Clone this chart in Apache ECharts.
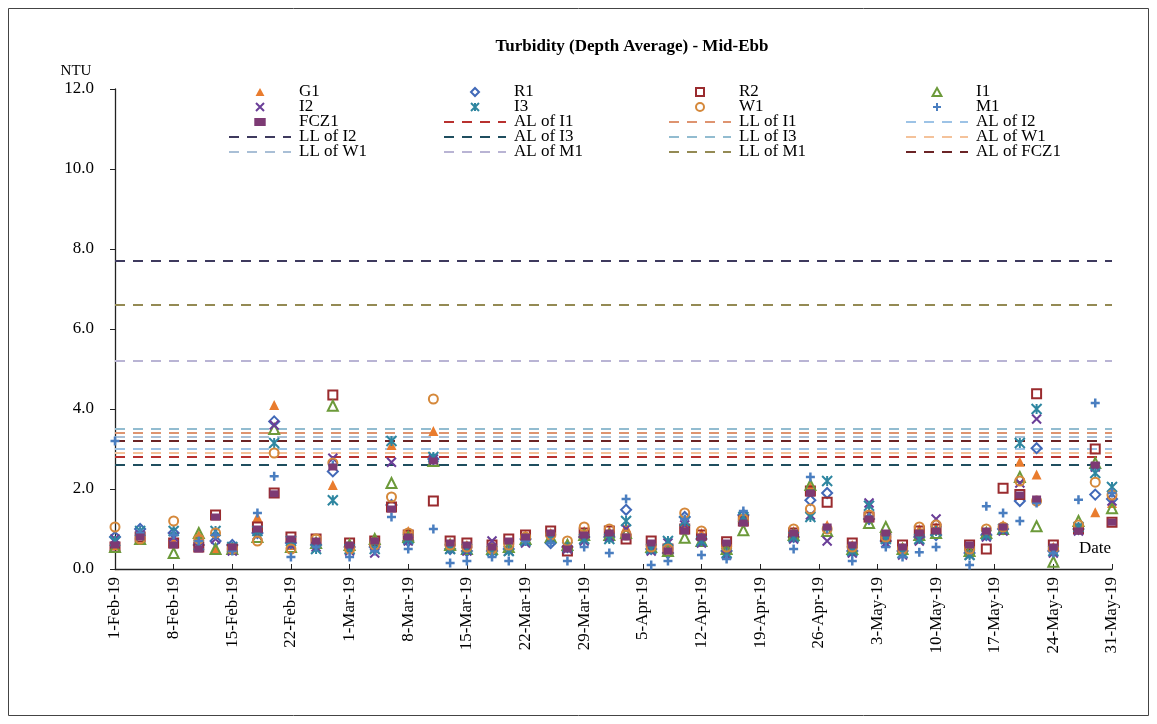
<!DOCTYPE html>
<html>
<head>
<meta charset="utf-8">
<script src="https://cdn.jsdelivr.net/npm/echarts@6/dist/echarts.min.js"></script>
<style>
html,body{margin:0;padding:0;background:#fff;}
#chart{width:1157px;height:724px;}
</style>
</head>
<body>
<div id="chart"></div>
<script>
// ---------- DATA ----------
const dates = ['2019-02-01','2019-02-04','2019-02-08','2019-02-11','2019-02-13','2019-02-15','2019-02-18','2019-02-20','2019-02-22','2019-02-25',
 '2019-02-27','2019-03-01','2019-03-04','2019-03-06','2019-03-08','2019-03-11','2019-03-13','2019-03-15','2019-03-18','2019-03-20',
 '2019-03-22','2019-03-25','2019-03-27','2019-03-29','2019-04-01','2019-04-03','2019-04-06','2019-04-08','2019-04-10','2019-04-12',
 '2019-04-15','2019-04-17','2019-04-23','2019-04-25','2019-04-27','2019-04-30','2019-05-02','2019-05-04','2019-05-06','2019-05-08',
 '2019-05-10','2019-05-14','2019-05-16','2019-05-18','2019-05-20','2019-05-22','2019-05-24','2019-05-27','2019-05-29','2019-05-31'];

const G1   = [0.60,0.90,0.70,0.85,0.50,0.55,1.30,4.10,0.60,0.70, 2.10,0.55,0.75,3.10,0.95,3.45,0.65,0.60,0.55,0.60, 0.85,0.90,0.65,0.95,0.95,1.05,0.60,0.55,1.15,0.90, 0.60,1.30,0.95,2.05,1.10,0.60,1.35,0.85,0.55,1.00, 1.05,0.50,0.95,1.10,2.68,2.36,0.55,1.05,1.42,1.65];
const R1   = [0.80,1.00,0.90,0.60,0.70,0.60,0.90,3.69,0.65,0.60, 2.44,0.55,0.55,1.60,0.70,2.75,0.50,0.45,0.45,0.50, 0.75,0.65,0.55,0.80,0.80,1.48,0.50,0.40,1.30,0.75, 0.45,1.35,0.80,1.72,1.90,0.45,1.25,0.70,0.45,0.80, 0.85,0.40,0.85,1.00,1.70,3.02,0.45,1.00,1.86,1.75];
const R2   = [0.55,0.80,0.65,0.55,1.35,0.50,1.05,1.90,0.80,0.75, 4.35,0.65,0.70,1.55,0.85,1.70,0.70,0.65,0.60,0.75, 0.85,0.95,0.45,0.90,0.95,0.75,0.70,0.50,1.00,0.85, 0.68,1.20,0.90,1.95,1.67,0.65,1.30,0.80,0.60,0.95, 1.00,0.60,0.50,2.02,1.86,4.38,0.60,1.00,3.00,1.17];
const I1   = [0.55,0.75,0.40,0.90,0.50,0.50,0.80,3.50,0.55,0.65, 4.08,0.60,0.75,2.15,0.80,2.70,0.60,0.50,0.50,0.55, 0.75,0.80,0.60,0.85,0.85,0.90,0.55,0.45,0.78,0.70, 0.50,0.97,0.85,2.10,0.95,0.50,1.15,1.05,0.50,0.85, 0.90,0.45,0.90,1.00,2.30,1.07,0.18,1.20,2.65,1.52];
const I2   = [0.75,0.85,0.80,0.55,0.75,0.45,0.85,3.60,0.60,0.55, 2.77,0.45,0.40,2.67,0.70,2.75,0.50,0.45,0.70,0.45, 0.65,0.75,0.50,0.70,0.80,1.00,0.45,0.65,1.10,0.65, 0.35,1.20,0.75,1.35,0.70,0.40,1.65,0.65,0.35,0.70, 1.25,0.35,0.80,0.95,2.15,3.75,0.40,0.95,2.55,1.70];
const I3   = [0.70,0.95,0.95,0.60,0.95,0.55,0.95,3.15,0.70,0.50, 1.72,0.50,0.50,3.20,0.75,2.80,0.50,0.50,0.45,0.45, 0.70,0.75,0.55,0.75,0.75,1.20,0.50,0.70,1.20,0.70, 0.40,1.30,0.80,1.30,2.20,0.45,1.58,0.75,0.40,0.75, 0.95,0.35,0.85,1.00,3.15,4.00,0.45,1.05,2.40,2.05];
const W1   = [1.05,0.75,1.20,0.75,0.90,0.50,0.70,2.90,0.50,0.75, 2.65,0.50,0.60,1.80,0.90,4.25,0.60,0.55,0.50,0.60, 0.80,0.85,0.70,1.05,1.00,0.85,0.55,0.50,1.40,0.95, 0.55,1.25,1.00,1.50,1.00,0.55,1.35,0.80,0.50,1.05, 1.10,0.50,1.00,1.05,2.20,1.70,0.50,1.10,2.17,1.85];
const M1   = [3.20,0.90,0.85,0.70,0.85,0.45,1.40,2.32,0.30,0.55, 2.60,0.30,0.45,1.30,0.50,1.00,0.15,0.20,0.30,0.20, 0.70,0.65,0.20,0.55,0.40,1.75,0.10,0.20,1.25,0.35, 0.25,1.45,0.50,2.30,1.00,0.20,1.30,0.55,0.30,0.42, 0.55,0.10,1.57,1.40,1.20,1.65,0.40,1.73,4.15,1.90];
const FCZ1 = [0.60,0.80,0.60,0.50,1.30,0.55,1.00,1.88,0.75,0.70, 2.55,0.60,0.70,1.50,0.80,2.70,0.65,0.60,0.55,0.70, 0.80,0.90,0.50,0.85,0.90,0.80,0.65,0.45,0.95,0.80, 0.65,1.15,0.90,1.90,1.05,0.60,1.25,0.90,0.55,0.90, 0.95,0.60,0.95,1.05,1.85,1.75,0.55,0.95,2.60,1.17];

const limitNames  = ['AL of I1','LL of I1','AL of I2','LL of I2','AL of I3','LL of I3','AL of W1','LL of W1','AL of M1','LL of M1','AL of FCZ1'];
const limitValues = [2.8, 3.4, 3.0, 7.7, 2.6, 3.5, 2.9, 3.3, 5.2, 6.6, 3.2];

const axisStart = '2019-02-01';
const axisEnd   = '2019-05-31';
const yTicks = {min: 0, max: 12, step: 2};

// ---------- HELPERS ----------
const MS_DAY = 86400000;
function dayIndex(s){ const [y,m,d]=s.split('-').map(Number); return Math.round((Date.UTC(y,m-1,d)-Date.UTC(2019,1,1))/MS_DAY); }
const MONTHS=['Jan','Feb','Mar','Apr','May','Jun','Jul','Aug','Sep','Oct','Nov','Dec'];
function dayLabel(v){ const dt=new Date(Date.UTC(2019,1,1)+v*MS_DAY); return dt.getUTCDate()+'-'+MONTHS[dt.getUTCMonth()]+'-'+String(dt.getUTCFullYear()).slice(2); }
const xs = dates.map(dayIndex);
const x0 = dayIndex(axisStart), x1 = dayIndex(axisEnd);
const pts = arr => arr.map((v,i)=>[xs[i], v]);

const FONT = '"Liberation Serif","Times New Roman",serif';
const NOFILL = 'rgba(0,0,0,0)';
const SYM = {
  tri:  'path://M5,0L10,9L0,9Z',
  dia:  'path://M5,0L10,5L5,10L0,5Z',
  sq:   'path://M0,0L10,0L10,10L0,10Z',
  x:    'path://M0,0L10,10M10,0L0,10',
  star: 'path://M0,0L10,10M10,0L0,10M5,0L5,10',
  plus: 'path://M5,0L5,10M0,5L10,5',
  dash: 'path://M0,0L10,0L10,7L0,7Z'
};

const markerDefs = {
  'G1':   {data:G1,   symbol:SYM.tri,  size:10, fill:'#E97C2E', stroke:'#E97C2E', bw:0},
  'R1':   {data:R1,   symbol:SYM.dia,  size:10, fill:NOFILL, stroke:'#4169B8', bw:2},
  'R2':   {data:R2,   symbol:SYM.sq,   size:9,  fill:NOFILL, stroke:'#9A2B2E', bw:2},
  'I1':   {data:I1,   symbol:SYM.tri,  size:10, fill:NOFILL, stroke:'#6C9A3A', bw:2},
  'I2':   {data:I2,   symbol:SYM.x,    size:9,  fill:NOFILL, stroke:'#6A3E98', bw:2},
  'I3':   {data:I3,   symbol:SYM.star, size:10, fill:NOFILL, stroke:'#2E86A0', bw:2},
  'W1':   {data:W1,   symbol:'circle', size:9,  fill:NOFILL, stroke:'#D5883A', bw:2},
  'M1':   {data:M1,   symbol:SYM.plus, size:9,  fill:NOFILL, stroke:'#4A7EC0', bw:2.5},
  'FCZ1': {data:FCZ1, symbol:SYM.dash, size:[9,7], fill:'#7D3A74', stroke:'#7D3A74', bw:0}
};
const limitStyle = {
  'AL of I1':'#B8312F','LL of I1':'#DE9470','AL of I2':'#9DC3E6','LL of I2':'#3E3A5E',
  'AL of I3':'#1F4E5F','LL of I3':'#92BCD0','AL of W1':'#F4C29A','LL of W1':'#A9BFD6',
  'AL of M1':'#B9B4D4','LL of M1':'#948A54','AL of FCZ1':'#6B2426'
};

const series = [];
limitNames.forEach((n,i)=>{
  series.push({
    name:n, type:'line', z:1, symbol:'none', silent:true, animation:false,
    data:[[x0, limitValues[i]],[x1, limitValues[i]]],
    lineStyle:{color:limitStyle[n], width:2, type:[10,8]},
    itemStyle:{color:NOFILL, borderColor:NOFILL}
  });
});
Object.keys(markerDefs).forEach(n=>{
  const d=markerDefs[n];
  series.push({
    name:n, type:'scatter', z:3, animation:false,
    symbol:d.symbol, symbolSize:d.size,
    data:pts(d.data),
    itemStyle:{color:d.fill, borderColor:d.stroke, borderWidth:d.bw, opacity:1}
  });
});

const legendCols = [
  {left:228, data:['G1','I2','FCZ1','LL of I2','LL of W1']},
  {left:443, data:['R1','I3','AL of I1','AL of I3','AL of M1']},
  {left:668, data:['R2','W1','LL of I1','LL of I3','LL of M1']},
  {left:905, data:['I1','M1','AL of I2','AL of W1','AL of FCZ1']}
];
const legendItem = n => limitNames.includes(n) ? {name:n, itemStyle:{opacity:0}} : {name:n};

const chart = echarts.init(document.getElementById('chart'), null, {renderer:'canvas'});
chart.setOption({
  animation:false,
  backgroundColor:'#fff',
  grid:{left:115, top:89, width:997, height:480, containLabel:false},
  xAxis:{
    type:'value', min:x0, max:x1, interval:7,
    axisLine:{show:true, lineStyle:{color:'#222', width:1.3}},
    axisTick:{show:true, inside:true, length:5, lineStyle:{color:'#222'}},
    splitLine:{show:false},
    axisLabel:{rotate:90, margin:8, color:'#000', fontFamily:FONT, fontSize:17, formatter:v=>dayLabel(v)}
  },
  yAxis:{
    type:'value', min:yTicks.min, max:yTicks.max, interval:yTicks.step,
    axisLine:{show:true, lineStyle:{color:'#222', width:1.3}},
    axisTick:{show:true, inside:false, length:5, lineStyle:{color:'#222'}},
    splitLine:{show:false},
    axisLabel:{margin:21, color:'#000', fontFamily:FONT, fontSize:17, formatter:v=>v.toFixed(1)}
  },
  legend: legendCols.map(c=>({
    left:c.left, top:83.5, padding:0, orient:'vertical', itemGap:-2, itemWidth:62, itemHeight:8,
    selectedMode:false, data:c.data.map(legendItem),
    textStyle:{fontFamily:FONT, fontSize:17, lineHeight:15, color:'#000', padding:[0,0,0,3]}
  })),
  graphic:[
    {type:'rect', shape:{x:8.5, y:8.5, width:1140, height:707}, style:{fill:'none', stroke:'#444', lineWidth:1}, silent:true},
    {type:'text', x:632, y:47, style:{text:'Turbidity (Depth Average) - Mid-Ebb', font:'bold 17px '+FONT, fill:'#000', textAlign:'center', textVerticalAlign:'middle'}},
    {type:'text', x:76, y:71, style:{text:'NTU', font:'15px '+FONT, fill:'#000', textAlign:'center', textVerticalAlign:'middle'}},
    {type:'text', x:1095, y:549, style:{text:'Date', font:'17px '+FONT, fill:'#000', textAlign:'center', textVerticalAlign:'middle'}}
  ],
  series: series
});
</script>
</body>
</html>
